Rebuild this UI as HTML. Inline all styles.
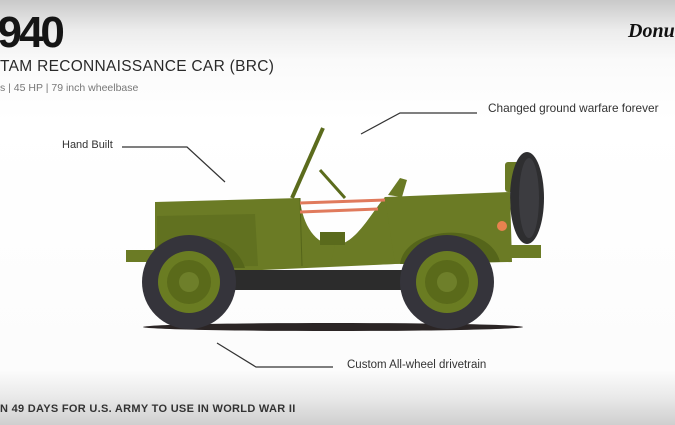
<!DOCTYPE html>
<html><head><style>
html,body{margin:0;padding:0}
body{width:675px;height:425px;overflow:hidden;position:relative;font-family:"Liberation Sans",sans-serif;
background:linear-gradient(to bottom,#c9c9c9 0px,#ececec 30px,#fafafa 60px,#fff 120px,#fcfcfc 370px,#ebebeb 395px,#cfcfcf 425px);}
.t{position:absolute;white-space:nowrap}
</style></head><body>
<div class="t" style="left:-24px;top:8px;font-size:44px;font-weight:bold;color:#151515;letter-spacing:-3px">1940</div>
<div class="t" style="left:0;top:58px;font-size:15.5px;color:#2a2a2a;letter-spacing:0.3px">TAM RECONNAISSANCE CAR (BRC)</div>
<div class="t" style="left:0;top:82px;font-size:10.5px;color:#777">s | 45 HP | 79 inch wheelbase</div>
<div class="t" style="left:628px;top:20px;font-size:20px;font-weight:bold;font-style:italic;color:#111;font-family:'Liberation Serif',serif">Donut</div>
<div class="t" style="left:62px;top:139px;font-size:11px;color:#333">Hand Built</div>
<div class="t" style="left:488px;top:101px;font-size:11.8px;color:#333">Changed ground warfare forever</div>
<div class="t" style="left:347px;top:359px;font-size:11.5px;color:#333">Custom All-wheel drivetrain</div>
<div class="t" style="left:0;top:403px;font-size:11px;font-weight:bold;color:#333;letter-spacing:0.3px">N 49 DAYS FOR U.S. ARMY TO USE IN WORLD WAR II</div>
<svg width="675" height="425" style="position:absolute;left:0;top:0">
<g stroke="#333" stroke-width="1.2" fill="none">
<polyline points="122,147 187,147 225,182"/>
<polyline points="361,134 400,113 477,113"/>
<polyline points="217,343 256,367 333,367"/>
</g>
<ellipse cx="333" cy="327" rx="190" ry="4" fill="#2b2525"/>
<rect x="505" y="162" width="14" height="30" rx="3" fill="#6a7a25"/>
<ellipse cx="527" cy="198" rx="17" ry="46" fill="#2e2e30"/>
<ellipse cx="529" cy="198" rx="10" ry="40" fill="#3c3c40"/>
<line x1="323" y1="128" x2="292" y2="198" stroke="#5b6b1c" stroke-width="4"/>
<path d="M320,170 L345,198" stroke="#5b6b1c" stroke-width="3"/>
<path d="M388,195 L400,178 L407,180 L402,197Z" fill="#6a7a25"/>
<path d="M155,202 L300,198 L300,200 C303,225 315,245 335,245 C355,245 370,215 385,197 L510,192 L512,262 L395,264 L262,270 L155,270 Z" fill="#6b7b25"/>
<path d="M335,245 C355,245 370,215 385,197 L395,264 L330,266 Z" fill="#6b7b25"/>
<path d="M157,216 L255,214 L258,266 L157,268Z" fill="#617120"/>
<line x1="300" y1="198" x2="302" y2="266" stroke="#55651a" stroke-width="1"/>
<path d="M320,232 L345,232 L345,245 L320,245Z" fill="#5a6a1c"/>
<line x1="300" y1="203" x2="385" y2="200" stroke="#e07a5c" stroke-width="3"/>
<line x1="300" y1="212" x2="378" y2="209" stroke="#e07a5c" stroke-width="3"/>
<path d="M400,264 C405,225 490,220 500,262Z" fill="#55651a"/>
<rect x="505" y="245" width="36" height="13" fill="#6b7b25"/>
<circle cx="502" cy="226" r="5" fill="#e8824f"/>
<path d="M145,268 C150,225 232,225 245,268Z" fill="#55651a"/>
<rect x="126" y="250" width="30" height="12" fill="#6b7b25"/>
<rect x="230" y="270" width="180" height="20" fill="#2c2c2c"/>
<g>
<circle cx="189" cy="282" r="47" fill="#35343b"/>
<circle cx="189" cy="282" r="31" fill="#6a7c22"/>
<circle cx="189" cy="282" r="22" fill="#5a6a1a"/>
<circle cx="189" cy="282" r="10" fill="#6e7f2a"/>
<circle cx="447" cy="282" r="47" fill="#35343b"/>
<circle cx="447" cy="282" r="31" fill="#6a7c22"/>
<circle cx="447" cy="282" r="22" fill="#5a6a1a"/>
<circle cx="447" cy="282" r="10" fill="#6e7f2a"/>
</g>
</svg>
</body></html>
